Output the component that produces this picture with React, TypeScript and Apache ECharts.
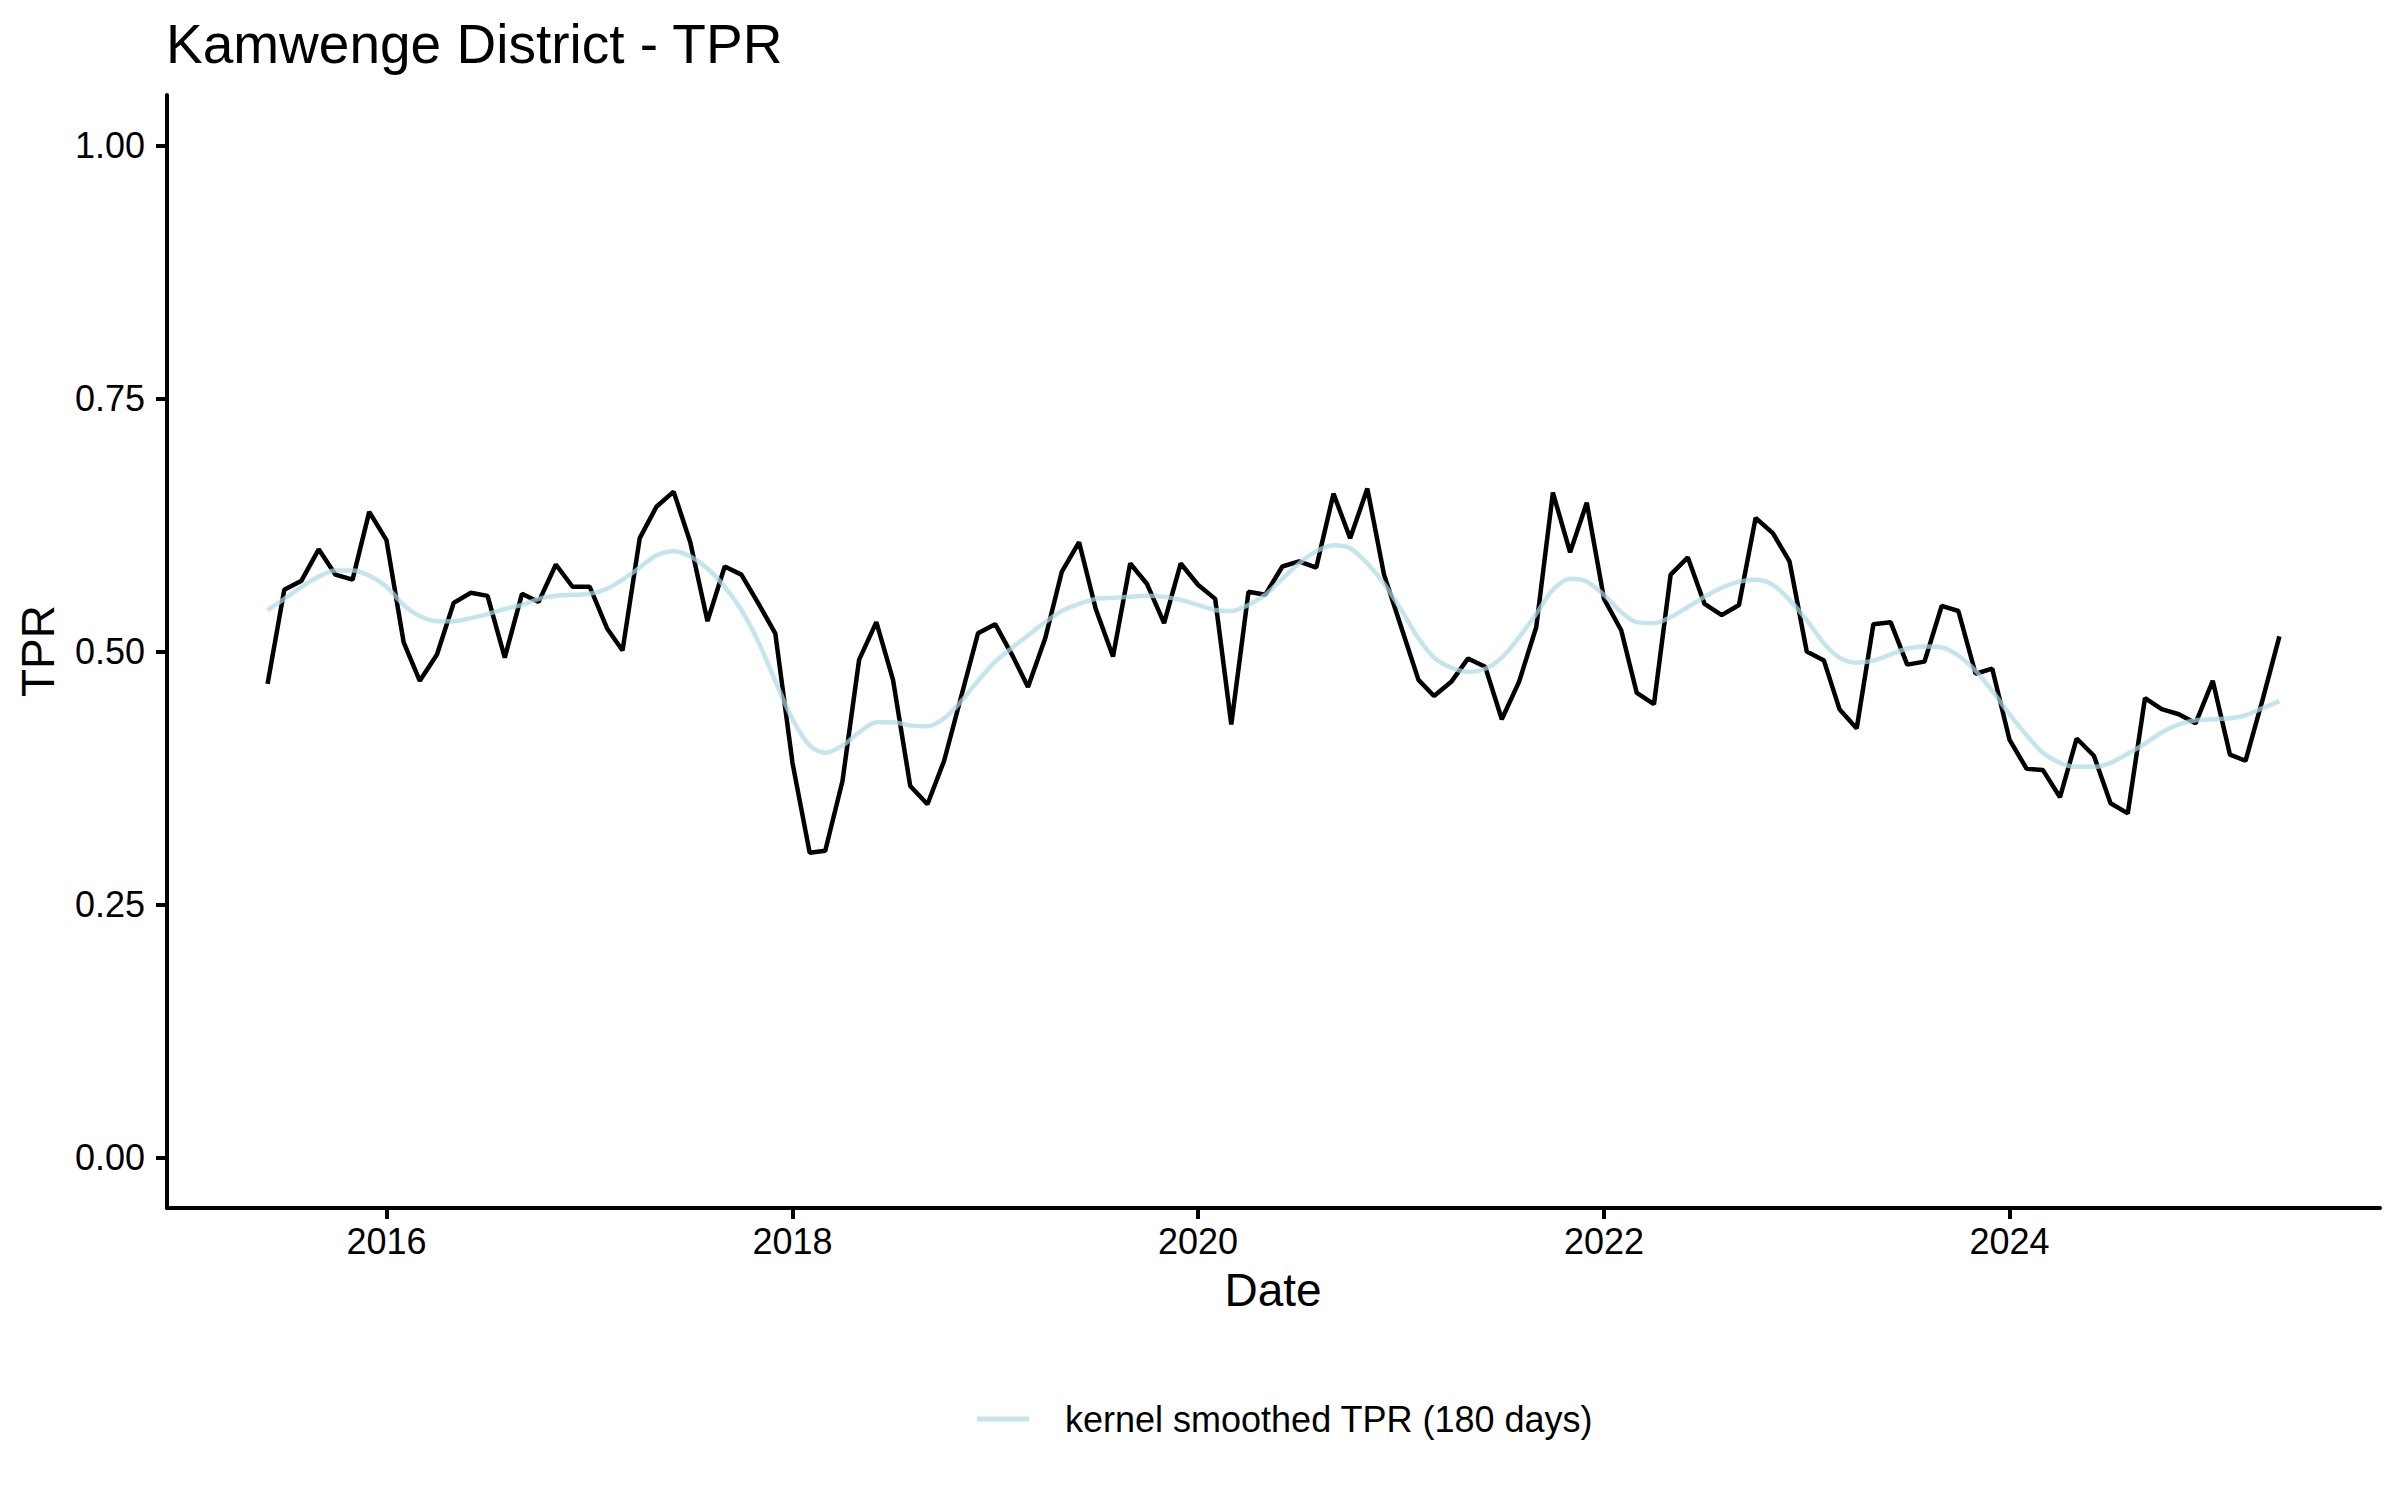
import React, { useEffect, useRef } from "react";
import * as echarts from "echarts";

const FONT = '"Liberation Sans", Arial, Helvetica, sans-serif';

const MONTHS = [
  "2015-06", "2015-07", "2015-08", "2015-09", "2015-10", "2015-11", "2015-12",
  "2016-01", "2016-02", "2016-03", "2016-04", "2016-05", "2016-06", "2016-07", "2016-08", "2016-09", "2016-10", "2016-11", "2016-12",
  "2017-01", "2017-02", "2017-03", "2017-04", "2017-05", "2017-06", "2017-07", "2017-08", "2017-09", "2017-10", "2017-11", "2017-12",
  "2018-01", "2018-02", "2018-03", "2018-04", "2018-05", "2018-06", "2018-07", "2018-08", "2018-09", "2018-10", "2018-11", "2018-12",
  "2019-01", "2019-02", "2019-03", "2019-04", "2019-05", "2019-06", "2019-07", "2019-08", "2019-09", "2019-10", "2019-11", "2019-12",
  "2020-01", "2020-02", "2020-03", "2020-04", "2020-05", "2020-06", "2020-07", "2020-08", "2020-09", "2020-10", "2020-11", "2020-12",
  "2021-01", "2021-02", "2021-03", "2021-04", "2021-05", "2021-06", "2021-07", "2021-08", "2021-09", "2021-10", "2021-11", "2021-12",
  "2022-01", "2022-02", "2022-03", "2022-04", "2022-05", "2022-06", "2022-07", "2022-08", "2022-09", "2022-10", "2022-11", "2022-12",
  "2023-01", "2023-02", "2023-03", "2023-04", "2023-05", "2023-06", "2023-07", "2023-08", "2023-09", "2023-10", "2023-11", "2023-12",
  "2024-01", "2024-02", "2024-03", "2024-04", "2024-05", "2024-06", "2024-07", "2024-08", "2024-09", "2024-10", "2024-11", "2024-12",
  "2025-01", "2025-02", "2025-03", "2025-04", "2025-05",
];

const TPR = [
  0.468, 0.561, 0.570, 0.601, 0.576, 0.571, 0.638,
  0.610, 0.509, 0.471, 0.497, 0.548, 0.558, 0.555, 0.494, 0.557, 0.549, 0.586, 0.564,
  0.564, 0.523, 0.501, 0.612, 0.643, 0.658, 0.608, 0.530, 0.584, 0.576, 0.547, 0.518,
  0.390, 0.301, 0.303, 0.372, 0.492, 0.529, 0.472, 0.367, 0.349, 0.392, 0.456, 0.518,
  0.527, 0.496, 0.465, 0.513, 0.579, 0.608, 0.542, 0.495, 0.587, 0.567, 0.528, 0.587,
  0.566, 0.552, 0.428, 0.559, 0.556, 0.584, 0.589, 0.583, 0.656, 0.612, 0.661, 0.576,
  0.524, 0.472, 0.456, 0.470, 0.493, 0.485, 0.433, 0.470, 0.524, 0.657, 0.598, 0.647,
  0.552, 0.521, 0.459, 0.448, 0.576, 0.593, 0.547, 0.536, 0.546, 0.632, 0.617, 0.589,
  0.500, 0.491, 0.443, 0.424, 0.527, 0.529, 0.487, 0.490, 0.545, 0.540, 0.478, 0.483,
  0.413, 0.384, 0.383, 0.356, 0.414, 0.397, 0.350, 0.340, 0.454, 0.443, 0.438, 0.429,
  0.471, 0.398, 0.392, 0.453, 0.515,
];

const SMOOTHED = [
  0.541, 0.552, 0.564, 0.574, 0.580, 0.580, 0.575,
  0.564, 0.546, 0.535, 0.530, 0.530, 0.533, 0.537, 0.542, 0.546, 0.552, 0.555, 0.556,
  0.557, 0.562, 0.571, 0.583, 0.595, 0.599, 0.594, 0.582, 0.564, 0.541, 0.509, 0.471,
  0.433, 0.407, 0.400, 0.407, 0.420, 0.430, 0.430, 0.427, 0.426, 0.434, 0.451, 0.471,
  0.490, 0.504, 0.516, 0.529, 0.540, 0.547, 0.552, 0.553, 0.554, 0.555, 0.554, 0.551,
  0.546, 0.541, 0.540, 0.546, 0.556, 0.572, 0.587, 0.599, 0.605, 0.602, 0.587, 0.567,
  0.541, 0.513, 0.494, 0.484, 0.480, 0.483, 0.494, 0.514, 0.537, 0.561, 0.572, 0.569,
  0.556, 0.539, 0.529, 0.528, 0.534, 0.544, 0.554, 0.563, 0.569, 0.571, 0.566, 0.551,
  0.531, 0.508, 0.494, 0.489, 0.491, 0.497, 0.503, 0.505, 0.504, 0.496, 0.481, 0.461,
  0.438, 0.417, 0.400, 0.390, 0.386, 0.386, 0.390, 0.399, 0.409, 0.420, 0.428, 0.432,
  0.433, 0.434, 0.437, 0.444, 0.451,
];

const X_TICK_YEARS = [2016, 2018, 2020, 2022, 2024];
const Y_TICKS = [0, 0.25, 0.5, 0.75, 1];

const TITLE = "Kamwenge District - TPR";
const X_NAME = "Date";
const Y_NAME = "TPR";
const SMOOTH_NAME = "kernel smoothed TPR (180 days)";
const RAW_NAME = "TPR";

const SMOOTH_COLOR = "rgba(173,216,230,0.7)";

const toTime = (s: string) => {
  const [y, m] = s.split("-").map(Number);
  return new Date(y, m - 1, 1).getTime();
};

export default function App() {
  const ref = useRef<HTMLDivElement>(null);

  useEffect(() => {
    document.body.style.margin = "0";
    if (!ref.current) return;
    const chart = echarts.init(ref.current, null, { renderer: "svg" });

    const times = MONTHS.map(toTime);
    const t0 = times[0];
    const t1 = times[times.length - 1];
    const pad = (t1 - t0) * 0.05;
    const xTicks = X_TICK_YEARS.map((y) => new Date(y, 0, 1).getTime());

    const rawData = times.map((t, i) => [t, TPR[i]]);
    const smoothData = times.map((t, i) => [t, SMOOTHED[i]]);

    chart.setOption({
      animation: false,
      backgroundColor: "#ffffff",
      textStyle: { fontFamily: FONT },
      grid: { left: 167, right: 20, top: 95, bottom: 292, containLabel: false },
      legend: {
        data: [{ name: SMOOTH_NAME, icon: "rect" }],
        left: 972,
        top: 1396,
        itemWidth: 52,
        itemHeight: 5,
        itemStyle: { color: SMOOTH_COLOR },
        textStyle: {
          fontSize: 36,
          color: "#000000",
          fontFamily: FONT,
          padding: [0, 0, 0, 31],
        },
      },
      graphic: [
        {
          type: "text",
          x: 166,
          y: 44,
          style: {
            text: TITLE,
            fontSize: 55,
            fontFamily: FONT,
            fill: "#000000",
            align: "left",
            verticalAlign: "middle",
          },
        },
        {
          type: "text",
          x: 38,
          y: 651,
          rotation: Math.PI / 2,
          style: {
            text: Y_NAME,
            fontSize: 46,
            fontFamily: FONT,
            fill: "#000000",
            align: "center",
            verticalAlign: "middle",
          },
        },
        {
          type: "text",
          x: 1273,
          y: 1290,
          style: {
            text: X_NAME,
            fontSize: 46,
            fontFamily: FONT,
            fill: "#000000",
            align: "center",
            verticalAlign: "middle",
          },
        },
      ],
      xAxis: {
        type: "value",
        min: t0 - pad,
        max: t1 + pad,
        axisLine: { onZero: false, lineStyle: { color: "#000000", width: 4 } },
        axisTick: {
          show: true,
          customValues: xTicks,
          length: 11,
          lineStyle: { color: "#000000", width: 4 },
        },
        axisLabel: {
          customValues: xTicks,
          formatter: (v: number) => String(new Date(v).getFullYear()),
          fontSize: 36,
          color: "#000000",
          fontFamily: FONT,
          margin: 15,
        },
        splitLine: { show: false },
      },
      yAxis: {
        type: "value",
        min: -0.05,
        max: 1.05,
        axisLine: { show: true, onZero: false, lineStyle: { color: "#000000", width: 4 } },
        axisTick: {
          show: true,
          customValues: Y_TICKS,
          length: 11,
          lineStyle: { color: "#000000", width: 4 },
        },
        axisLabel: {
          customValues: Y_TICKS,
          formatter: (v: number) => v.toFixed(2),
          fontSize: 36,
          color: "#000000",
          fontFamily: FONT,
          margin: 22,
        },
        splitLine: { show: false },
      },
      series: [
        {
          name: RAW_NAME,
          type: "line",
          data: rawData,
          symbol: "none",
          showSymbol: false,
          lineStyle: { color: "#000000", width: 4.5 },
          itemStyle: { color: "#000000" },
          z: 2,
        },
        {
          name: SMOOTH_NAME,
          type: "line",
          data: smoothData,
          symbol: "none",
          showSymbol: false,
          smooth: 0.3,
          lineStyle: { color: SMOOTH_COLOR, width: 4.5 },
          itemStyle: { color: SMOOTH_COLOR },
          z: 3,
        },
      ],
    });

    return () => {
      chart.dispose();
    };
  }, []);

  return <div ref={ref} style={{ width: 2400, height: 1500 }} />;
}
